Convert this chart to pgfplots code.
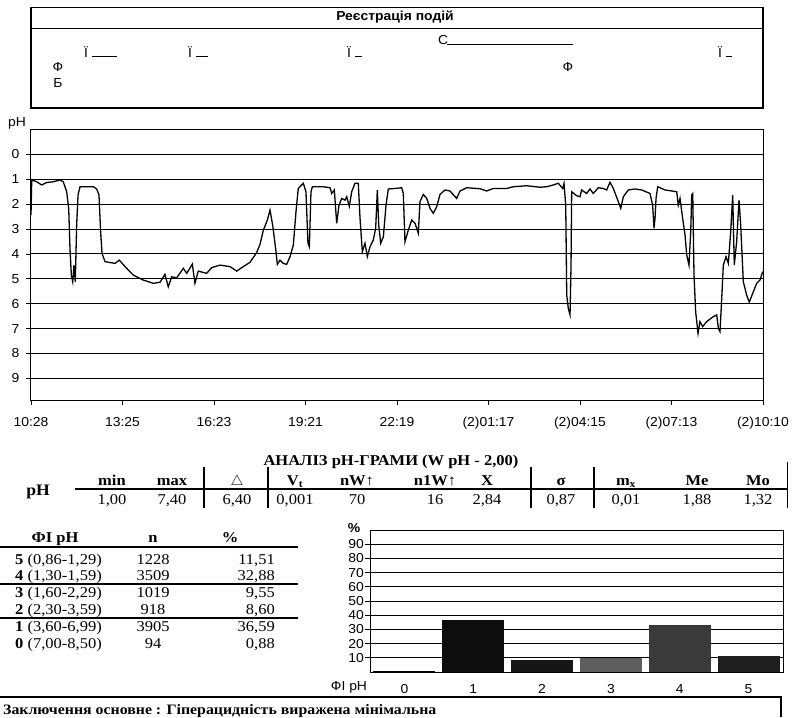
\documentclass[border=0pt]{standalone}
\usepackage{pgfplots}
\pgfplotsset{compat=1.18}
\usepackage{fontspec}
\setmainfont{Liberation Serif}
\newfontfamily\sansf{Liberation Sans}[FakeStretch=1.07]
\newfontfamily\tabf{Liberation Serif}[FakeStretch=1.1]
\definecolor{bz}{HTML}{000000}
\definecolor{bo}{HTML}{0D0D0D}
\definecolor{bt}{HTML}{161616}
\definecolor{bh}{HTML}{5E5E5E}
\definecolor{bf}{HTML}{3A3A3A}
\definecolor{bv}{HTML}{1E1E1E}
\begin{document}
\begin{tikzpicture}
\useasboundingbox (0pt,0pt) rectangle (797pt,-717pt);
% ---------------- main pH trace ----------------
\begin{axis}[
  at={(31pt,-400pt)}, anchor=south west,
  scale only axis, width=732pt, height=271pt,
  xmin=0, xmax=8, ymin=-1.02, ymax=9.87, y dir=reverse,
  xtick={0,...,8},
  xticklabels={10:28,13:25,16:23,19:21,22:19,(2)01:17,(2)04:15,(2)07:13,(2)10:10},
  ytick={0,...,9},
  ymajorgrids, major grid style={black, line width=1pt},
  axis line style={black, line width=1pt},
  tick style={black, line width=0.8pt},
  xtick pos=bottom, ytick pos=left, tick align=outside,
  major tick length=5pt,
  /pgf/number format/assume math mode=true,
  ticklabel style={font=\sansf\fontsize{13}{13}\selectfont},
  xticklabel style={yshift=-9pt},
  yticklabel style={xshift=-3pt},
]
\addplot[black, line width=1.3pt, mark=none] coordinates {
(0,2.44) (0.008,1.03) (0.062,1.10) (0.117,1.23) (0.171,1.13) (0.244,1.10) (0.317,1.03) (0.353,1.10)
(0.39,1.50) (0.412,2.17) (0.426,3.78) (0.441,4.85) (0.456,5.12) (0.47,4.45) (0.484,5.12) (0.499,2.84)
(0.514,1.63) (0.536,1.30) (0.681,1.30) (0.718,1.39) (0.743,1.63) (0.761,3.11) (0.776,3.98) (0.809,4.31)
(0.918,4.38) (0.965,4.25) (1.046,4.58) (1.118,4.85) (1.227,5.05) (1.337,5.18) (1.41,5.14) (1.464,4.82)
(1.5,5.32) (1.538,4.92) (1.592,4.96) (1.665,4.58) (1.702,4.78) (1.763,4.41) (1.792,5.18) (1.828,4.69)
(1.92,4.78) (1.975,4.55) (2.066,4.45) (2.175,4.51) (2.248,4.69) (2.32,4.51) (2.393,4.34) (2.467,3.94)
(2.503,3.61) (2.54,3.04) (2.583,2.64) (2.612,2.24) (2.641,2.84) (2.678,3.91) (2.692,4.42) (2.721,4.25)
(2.757,4.38) (2.794,4.42) (2.831,4.11) (2.867,3.64) (2.896,2.30) (2.921,1.37) (2.976,1.16) (3.005,1.50)
(3.027,3.57) (3.042,3.71) (3.06,1.50) (3.075,1.30) (3.195,1.30) (3.268,1.34) (3.286,1.57) (3.315,1.43)
(3.341,2.77) (3.366,2.04) (3.396,1.77) (3.432,1.84) (3.45,1.70) (3.479,2.09) (3.505,1.50) (3.541,1.16)
(3.577,1.16) (3.596,2.57) (3.621,3.91) (3.65,3.57) (3.676,4.11) (3.705,3.71) (3.741,3.44) (3.767,2.97)
(3.785,1.43) (3.8,2.84) (3.822,3.57) (3.851,3.31) (3.88,2.04) (3.905,1.39) (3.978,1.37) (4.051,1.34)
(4.069,1.57) (4.087,3.51) (4.124,3.04) (4.161,2.64) (4.197,2.77) (4.233,3.17) (4.251,1.90) (4.288,1.61)
(4.325,1.77) (4.361,2.17) (4.397,2.37) (4.434,2.10) (4.47,1.61) (4.525,1.43) (4.579,1.47) (4.652,1.77)
(4.689,1.47) (4.762,1.34) (4.907,1.38) (4.98,1.47) (5.052,1.37) (5.199,1.37) (5.271,1.30) (5.417,1.26)
(5.563,1.32) (5.636,1.30) (5.708,1.23) (5.763,1.16) (5.811,1.37) (5.825,1.16) (5.844,2.04) (5.855,5.65)
(5.872,6.19) (5.891,6.45) (5.902,4.45) (5.909,1.50) (5.964,1.66) (6.0,1.70) (6.018,1.43) (6.073,1.57)
(6.109,1.39) (6.145,1.57) (6.2,1.34) (6.255,1.37) (6.292,1.43) (6.328,1.12) (6.364,1.37) (6.419,1.90)
(6.445,2.17) (6.474,1.70) (6.528,1.43) (6.601,1.39) (6.674,1.43) (6.765,1.57) (6.794,2.04) (6.809,2.97)
(6.82,2.57) (6.831,1.77) (6.849,1.30) (6.929,1.43) (7.057,1.50) (7.074,2.04) (7.093,1.77) (7.122,2.57)
(7.148,3.24) (7.166,4.04) (7.191,4.45) (7.21,3.11) (7.221,1.63) (7.232,1.57) (7.246,4.85) (7.264,6.32)
(7.29,7.19) (7.311,6.72) (7.341,6.92) (7.384,6.72) (7.457,6.52) (7.494,6.45) (7.512,6.99) (7.53,7.12)
(7.549,5.78) (7.566,4.45) (7.596,4.11) (7.621,4.38) (7.647,3.11) (7.669,1.63) (7.686,4.45) (7.712,3.51)
(7.738,1.84) (7.756,2.84) (7.785,5.12) (7.821,5.65) (7.85,5.94) (7.894,5.52) (7.931,5.18) (7.967,5.05)
(7.997,4.71)
};
\end{axis}
% ---------------- bar chart ----------------
\begin{axis}[
  at={(370pt,-672pt)}, anchor=south west,
  scale only axis, width=413pt, height=142pt,
  xmin=-0.5, xmax=5.5, ymin=0, ymax=100,
  xtick={0,...,5}, ytick={10,20,...,90},
  ymajorgrids, major grid style={black, line width=1pt},
  axis line style={black, line width=1pt},
  xtick style={draw=none}, ytick style={black, line width=0.8pt},
  ytick pos=left, tick align=outside, major tick length=5pt,
  /pgf/number format/assume math mode=true,
  ticklabel style={font=\sansf\fontsize{13}{13}\selectfont},
  xticklabel style={yshift=-4pt},
  yticklabel style={inner sep=1pt},
]
\addplot[ybar, bar width=0.9, bar shift=0pt, fill=bz, draw=none] coordinates {(0,0.88)};
\addplot[ybar, bar width=0.9, bar shift=0pt, fill=bo, draw=none] coordinates {(1,36.59)};
\addplot[ybar, bar width=0.9, bar shift=0pt, fill=bt, draw=none] coordinates {(2,8.60)};
\addplot[ybar, bar width=0.9, bar shift=0pt, fill=bh, draw=none] coordinates {(3,9.55)};
\addplot[ybar, bar width=0.9, bar shift=0pt, fill=bf, draw=none] coordinates {(4,32.88)};
\addplot[ybar, bar width=0.9, bar shift=0pt, fill=bv, draw=none] coordinates {(5,11.51)};
\end{axis}
% ---------------- decorations and tables ----------------
\begin{scope}[x=1pt,y=-1pt,
  sf/.style={font=\sansf\fontsize{13}{13}\selectfont, inner sep=0pt},
  sfb/.style={font=\sansf\bfseries\fontsize{13}{13}\selectfont, inner sep=0pt},
  tr/.style={font=\tabf\fontsize{15}{15}\selectfont, inner sep=0pt, anchor=base},
  tb/.style={font=\tabf\bfseries\fontsize{15}{15}\selectfont, inner sep=0pt, anchor=base}]
% event box
\draw[line width=1.6pt] (30.8,7.5) rectangle (763,108);
\draw[line width=0.8pt] (30.8,28) -- (763,28);
\node[sfb] at (395,17.5) {Реєстрація подій};
\node[sf, anchor=base west] at (84,57) {Ї}; \draw[line width=0.9pt] (92,56.5) -- (117,56.5);
\node[sf, anchor=base west] at (188,57) {Ї}; \draw[line width=0.9pt] (196,56.5) -- (208,56.5);
\node[sf, anchor=base west] at (347,57) {Ї}; \draw[line width=0.9pt] (355,56.5) -- (362,56.5);
\node[sf, anchor=base west] at (438,44.5) {С}; \draw[line width=0.9pt] (447,44) -- (573,44);
\node[sf, anchor=base west] at (718,57) {Ї}; \draw[line width=0.9pt] (726,56.5) -- (732,56.5);
\node[sf] at (58,67) {Ф};
\node[sf] at (58,83) {Б};
\node[sf] at (568,67) {Ф};
\node[sf] at (17,123) {pH};
% analysis table
\node[tb] at (391,465) {АНАЛІЗ pH-ГРАМИ (W pH - 2,00)};
\node[tb, font=\tabf\bfseries\fontsize{16}{16}\selectfont] at (38,495) {pH};
\foreach \x/\t in {112/min,172/max,237/$\triangle$,295/V\textsubscript{t},357/nW↑,435/n1W↑,487/X,561/σ,626/m\textsubscript{x},697/Me,758/Mo}
  {\node[tb] at (\x,485) {\t};}
\foreach \x/\t in {112/{1,00},172/{7,40},237/{6,40},295/{0,001},357/70,435/16,487/{2,84},561/{0,87},626/{0,01},697/{1,88},758/{1,32}}
  {\node[tr] at (\x,504) {\t};}
\draw[line width=1.4pt] (75,489) -- (788,489);
\foreach \x in {204,268,531,594} {\draw[line width=1.4pt] (\x,467) -- (\x,508);}
\draw[line width=1.4pt] (787.5,462) -- (787.5,508);
% pH zones table
\node[tb] at (55,542) {ФІ pH};
\node[tb] at (153,542) {n};
\node[tb] at (230,542) {\%};
\draw[line width=1.6pt] (0,547) -- (298,547);
\foreach \y/\z/\r/\n/\p in {564/5/{(0,86-1,29)}/1228/{11,51},580/4/{(1,30-1,59)}/3509/{32,88},597/3/{(1,60-2,29)}/1019/{9,55},614/2/{(2,30-3,59)}/918/{8,60},631/1/{(3,60-6,99)}/3905/{36,59},648/0/{(7,00-8,50)}/94/{0,88}}
  {\node[tr, anchor=base west] at (15,\y) {\textbf{\z} \r};
   \node[tr] at (153,\y) {\n};
   \node[tr, anchor=base east] at (275,\y) {\p};}
\draw[line width=1.2pt] (0,584) -- (298,584);
\draw[line width=1.2pt] (0,618) -- (298,618);
% bar chart labels
\node[sfb] at (354,528) {\%};
\node[sf] at (349,687) {ФІ pH};
% conclusion
\draw[line width=1.6pt] (0,697) -- (781,697) -- (781,717);
\node[font=\tabf\bfseries\fontsize{14.4}{14.4}\selectfont, inner sep=0pt, anchor=base west] at (3,714) {Заключення основне : Гіперацидність виражена мінімальна};
\end{scope}
\end{tikzpicture}
\end{document}
